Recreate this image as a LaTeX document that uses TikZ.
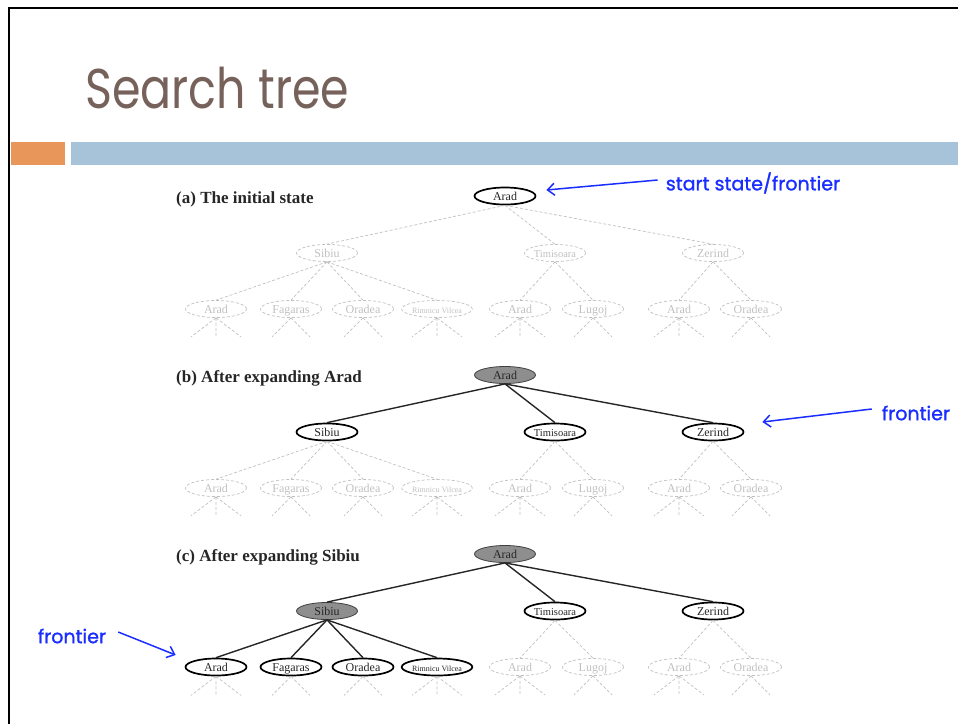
\documentclass[tikz,border=0pt]{standalone}
\usepackage{fontspec}
\setmainfont{Liberation Serif}
\newfontfamily\slidefont{Poppins}
\newfontfamily\notefont{Poppins}[FakeBold=1.3]
\usetikzlibrary{shapes.geometric, arrows.meta}

\definecolor{titlebrown}{RGB}{118,98,90}
\definecolor{barorange}{RGB}{232,150,90}
\definecolor{barblue}{RGB}{167,195,218}
\definecolor{noteblue}{RGB}{25,45,255}
\definecolor{ghost}{RGB}{192,192,192}
\definecolor{expgray}{RGB}{142,142,142}

% dashed stubs under a leaf: 3 or 2 cut-off children
\newcommand{\leafstubs}[2]{%
  \ifnum#2=3
    \draw[gedge] (#1.south) -- ++(-25,19) (#1.south) -- ++(0,19) (#1.south) -- ++(25,19);
  \else
    \draw[gedge] (#1.south) -- ++(-19,19) (#1.south) -- ++(19,19);
  \fi}

\begin{document}
\begin{tikzpicture}[x=1pt, y=-1pt,
  tnode/.style={ellipse, minimum width=61pt, minimum height=17pt, inner sep=0pt,
    text height=9pt, text depth=1pt, font=\fontsize{12}{12}\selectfont},
  gstate/.style={tnode, draw=ghost, text=ghost, line width=0.7pt, dash pattern=on 3pt off 2pt},
  fstate/.style={tnode, draw=black, line width=1.7pt, fill=white, text=black!85},
  xstate/.style={tnode, draw=black!75, line width=0.8pt, fill=expgray, text=black!85},
  tedge/.style={draw=black!85, line width=1.4pt},
  gedge/.style={draw=ghost, line width=0.7pt, dash pattern=on 3pt off 2pt},
  caption/.style={anchor=base west, inner sep=0pt, font=\fontsize{17}{17}\selectfont\bfseries, text=black!85},
  notetext/.style={inner sep=0pt, text=noteblue, font=\notefont\fontsize{19}{19}\selectfont},
  note/.style={draw=noteblue, line width=1.5pt, -{Straight Barb[length=7pt, width=12pt]}}]
\useasboundingbox (0,0) rectangle (958,724);

% slide frame and header
\draw[line width=2.6pt] (9,724) -- (9,8) -- (958,8);
\fill[barorange] (11,142) rectangle (65,165);
\fill[barblue] (71,142) rectangle (958,165);
\node[anchor=base west, inner sep=0pt, text=titlebrown,
  font=\slidefont\fontsize{56}{56}\selectfont] (title) at (85,108) {\scalebox{0.82}[1]{Search tree}};

% the three stages of the tree
\foreach \p/\dy/\lbl/\rootst/\sibst/\midst/\leafst/\topln/\sibln in {
  a/0/{(a) The initial state}/fstate/gstate/gstate/gstate/gedge/gedge,
  b/179/{(b) After expanding Arad}/xstate/fstate/fstate/gstate/tedge/gedge,
  c/358/{(c) After expanding Sibiu}/xstate/xstate/fstate/fstate/tedge/tedge}
{
  \node[caption] (\p-cap) at (176,203+\dy) {\lbl};
  \node[\rootst] (\p-root) at (505,196+\dy) {Arad};
  \node[\sibst] (\p-sib) at (327,253+\dy) {Sibiu};
  \node[\midst, font=\fontsize{10.5}{10.5}\selectfont] (\p-tim) at (555,253+\dy) {Timisoara};
  \node[\midst] (\p-zer) at (713,253+\dy) {Zerind};
  \foreach \s in {sib,tim,zer}
    \draw[\topln] (\p-root.south) -- (\p-\s.north);
  % children of Sibiu
  \foreach \x/\k/\nm/\txt in {216/3/ara/Arad, 291/2/fag/Fagaras, 363/2/ora/Oradea,
      437/3/rim/{\fontsize{8}{8}\selectfont Rimnicu Vilcea}} {
    \node[\leafst] (\p-\nm) at (\x,309+\dy) {\txt};
    \draw[\sibln] (\p-sib.south) -- (\p-\nm.north);
    \leafstubs{\p-\nm}{\k}
  }
  % children of Timisoara and Zerind
  \foreach \x/\k/\up/\nm/\txt in {520/3/tim/tara/Arad, 593/2/tim/lug/Lugoj,
      679/3/zer/zara/Arad, 751/2/zer/zora/Oradea} {
    \node[gstate] (\p-\nm) at (\x,309+\dy) {\txt};
    \draw[gedge] (\p-\up.south) -- (\p-\nm.north);
    \leafstubs{\p-\nm}{\k}
  }
}

% notes
\node[notetext] (n-start) at (753,183) {start state/frontier};
\draw[note] ([shift={(-8,-3)}]n-start.west) -- ([shift={(10,-6)}]a-root.east);
\node[notetext] (n-front-b) at (916,413) {frontier};
\draw[note] ([shift={(-10,-4)}]n-front-b.west) -- ([shift={(18,-10)}]b-zer.east);
\node[notetext] (n-front-c) at (72,636) {frontier};
\draw[note] ([shift={(12,-4)}]n-front-c.east) -- ([shift={(-9,-12)}]c-ara.west);
\end{tikzpicture}
\end{document}
